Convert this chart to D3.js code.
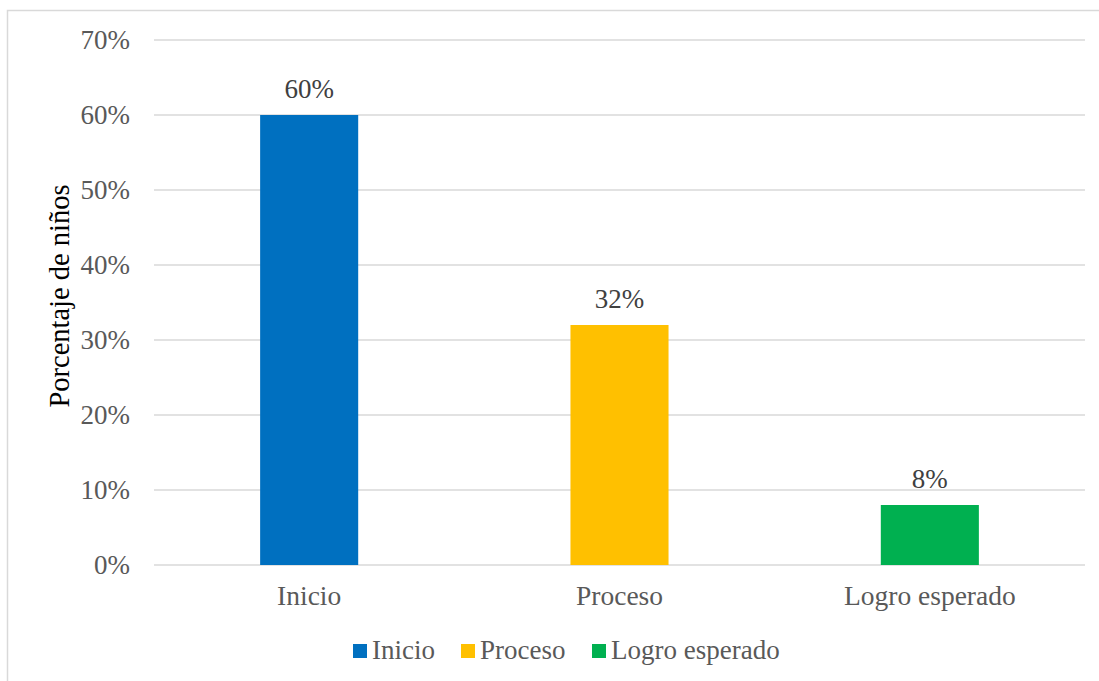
<!DOCTYPE html>
<html><head><meta charset="utf-8">
<script src="https://cdn.jsdelivr.net/npm/d3@7"></script>
<style>body{margin:0;background:#fff}</style>
</head><body>
<svg id="c" width="1099" height="681"></svg>
<script>
const categories = ["Inicio", "Proceso", "Logro esperado"];
const values = [60, 32, 8];
const colors = ["#0070C0", "#FFC000", "#00B050"];
const yTicks = [0, 10, 20, 30, 40, 50, 60, 70];
const yTitle = "Porcentaje de niños";

const svg = d3.select("#c");
const font = "'Liberation Serif','Times New Roman',serif";
svg.append("rect").attr("x", 7.5).attr("y", 10.5).attr("width", 1100).attr("height", 700)
  .attr("fill", "#fff").attr("stroke", "#d9d9d9").attr("stroke-width", 1.5);

const x = d3.scaleBand().domain(categories).range([154, 1085]).paddingInner(0.684).paddingOuter(0.342);
const y = d3.scaleLinear().domain([0, 70]).range([565, 40]);

const g = svg.append("g");
g.selectAll("line.grid").data(yTicks).join("line").attr("class", "grid")
  .attr("x1", 154).attr("x2", 1085).attr("y1", d => y(d)).attr("y2", d => y(d))
  .attr("stroke", "#d9d9d9").attr("stroke-width", 1.5);

const yAxis = d3.axisLeft(y).tickValues(yTicks).tickFormat(d => d + "%").tickSize(0).tickPadding(0);
const ya = svg.append("g").attr("transform", "translate(130,0)").call(yAxis);
ya.select(".domain").remove();
ya.selectAll("text").attr("font-family", font).attr("font-size", 27).attr("fill", "#595959").attr("dy", "0.32em");

g.selectAll("rect.bar").data(values).join("rect").attr("class", "bar")
  .attr("x", (d, i) => x(categories[i])).attr("width", x.bandwidth())
  .attr("y", d => y(d)).attr("height", d => y(0) - y(d))
  .attr("fill", (d, i) => colors[i]);

g.selectAll("text.lbl").data(values).join("text").attr("class", "lbl")
  .attr("x", (d, i) => x(categories[i]) + x.bandwidth() / 2).attr("y", d => y(d) - 17)
  .attr("text-anchor", "middle").attr("font-family", font).attr("font-size", 27).attr("fill", "#404040")
  .text(d => d + "%");

const xAxis = d3.axisBottom(x).tickSize(0).tickPadding(0);
const xa = svg.append("g").attr("transform", "translate(0,604.5)").call(xAxis);
xa.select(".domain").remove();
xa.selectAll("text").attr("font-family", font).attr("font-size", 27.5).attr("fill", "#595959").attr("dy", 0);

svg.append("text").attr("transform", "translate(69,296) rotate(-90)").attr("text-anchor", "middle")
  .attr("font-family", font).attr("font-size", 28.5).attr("fill", "#000").text(yTitle);

const legX = [353, 461, 592];
const lg = svg.append("g");
categories.forEach((c, i) => {
  lg.append("rect").attr("x", legX[i]).attr("y", 644).attr("width", 14).attr("height", 14).attr("fill", colors[i]);
  lg.append("text").attr("x", legX[i] + 19).attr("y", 659).attr("font-family", font).attr("font-size", 27)
    .attr("fill", "#595959").text(c);
});
</script>
</body></html>
